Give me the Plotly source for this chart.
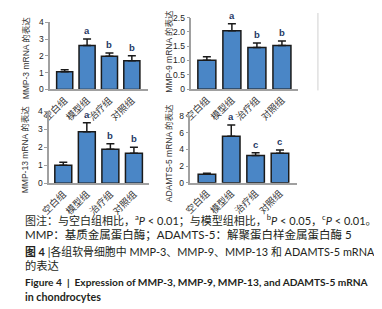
import plotly.graph_objects as go

categories = ["空白组", "模型组", "治疗组", "对照组"]

mmp3_values = [1.05, 2.62, 1.97, 1.71]
mmp3_errors = [0.12, 0.38, 0.20, 0.30]
mmp3_marks = ["", "a", "b", "b"]

mmp9_values = [1.01, 2.04, 1.45, 1.52]
mmp9_errors = [0.12, 0.24, 0.16, 0.16]
mmp9_marks = ["", "a", "b", "b"]

mmp13_values = [1.00, 2.87, 1.90, 1.67]
mmp13_errors = [0.17, 0.50, 0.30, 0.33]
mmp13_marks = ["", "a", "b", "b"]

adamts5_values = [1.00, 5.60, 3.26, 3.53]
adamts5_errors = [0.12, 1.35, 0.34, 0.39]
adamts5_marks = ["", "a", "c", "c"]

y_titles = ["MMP-3 mRNA 的表达", "MMP-9 mRNA 的表达", "MMP-13 mRNA 的表达", "ADAMTS-5 mRNA 的表达"]
y_ticks = [
    ([0, 1, 2, 3, 4], ["0", "1", "2", "3", "4"]),
    ([0, 0.5, 1.0, 1.5, 2.0, 2.5], ["0", "0.5", "1.0", "1.5", "2.0", "2.5"]),
    ([0, 1, 2, 3, 4], ["0", "1", "2", "3", "4"]),
    ([0, 2, 4, 6, 8], ["0", "2", "4", "6", "8"]),
]

caption_lines = [
    "图注：与空白组相比，<sup>a</sup><i>P</i> < 0.01；与模型组相比，<sup>b</sup><i>P</i> < 0.05，<sup>c</sup><i>P</i> < 0.01。",
    "MMP：基质金属蛋白酶；ADAMTS-5：解聚蛋白样金属蛋白酶 5",
    "<b>图 4</b> |各组软骨细胞中 MMP-3、MMP-9、MMP-13 和 ADAMTS-5 mRNA",
    "的表达",
    "<b>Figure 4  |  Expression of MMP-3, MMP-9, MMP-13, and ADAMTS-5 mRNA</b>",
    "<b>in chondrocytes</b>",
]

W, H = 382, 309
def px(x):
    return x / W
def py(y):
    return 1 - y / H

panels = [
    dict(v=mmp3_values, e=mmp3_errors, m=mmp3_marks, xd=[33, 133], y0=79, ytop=9.5, ymax=4, xr=[-0.65, 3.7], tx=8, ty=46),
    dict(v=mmp9_values, e=mmp9_errors, m=mmp9_marks, xd=[178, 288], y0=78.7, ytop=4.7, ymax=2.5, xr=[-0.62, 3.66], tx=155, ty=39),
    dict(v=mmp13_values, e=mmp13_errors, m=mmp13_marks, xd=[32, 135], y0=176, ytop=101.7, ymax=4, xr=[-0.6, 3.66], tx=8, ty=141),
    dict(v=adamts5_values, e=adamts5_errors, m=adamts5_marks, xd=[177, 287], y0=175.3, ytop=106.7, ymax=8, xr=[-0.68, 3.72], tx=155, ty=145),
]

fig = go.Figure()
annotations = []
bar_color = "#4a86c6"
font_cjk = "Noto Sans CJK SC, sans-serif"
font_lat = "Lato, Noto Sans CJK SC, sans-serif"
font_arial = "Liberation Sans, Noto Sans CJK SC, sans-serif"

for i, p in enumerate(panels):
    k = "" if i == 0 else str(i + 1)
    xa, ya = "x" + k, "y" + k
    fig.add_trace(go.Bar(
        x=categories, y=p["v"], xaxis=xa, yaxis=ya,
        width=0.72,
        marker=dict(color=bar_color, line=dict(color="#1a1a1a", width=1.5)),
        error_y=dict(type="data", array=p["e"], arrayminus=[0] * 4, symmetric=False,
                     color="#1a1a1a", thickness=1.5, width=4),
        showlegend=False, hoverinfo="skip",
    ))
    tv, tt = y_ticks[i]
    fig.layout["xaxis" + k] = dict(
        domain=[px(p["xd"][0]), px(p["xd"][1])], anchor=ya, range=p["xr"],
        showline=True, linecolor="#a0a0a0", linewidth=1.5, ticks="",
        tickangle=-45, tickfont=dict(family=font_cjk, size=9.5, color="#333"),
        showgrid=False, zeroline=False, fixedrange=True,
    )
    fig.layout["yaxis" + k] = dict(
        domain=[py(p["y0"]), py(p["ytop"])], anchor=xa, range=[0, p["ymax"]],
        showline=True, linecolor="#a0a0a0", linewidth=1.5,
        ticks="outside", ticklen=3, tickcolor="#a0a0a0", tickwidth=1,
        tickvals=tv, ticktext=tt,
        tickfont=dict(family="Liberation Sans, sans-serif", size=8.5, color="#222"),
        showgrid=False, zeroline=False, fixedrange=True,
    )
    for j, mk in enumerate(p["m"]):
        if mk:
            annotations.append(dict(
                x=categories[j], y=p["v"][j] + p["e"][j], xref=xa, yref=ya,
                text="<b>" + mk + "</b>", showarrow=False, yanchor="bottom", yshift=1,
                font=dict(family="Liberation Sans, sans-serif", size=9.5, color="#1f3a66"),
            ))
    annotations.append(dict(
        x=px(p["tx"]), y=py(p["ty"]), xref="paper", yref="paper",
        text=y_titles[i], textangle=-90, showarrow=False,
        xanchor="center", yanchor="middle",
        font=dict(family=font_arial, size=8.5, color="#333"),
    ))

caption_y = [213, 229, 246, 261, 278, 293]
caption_sizes = [11.0, 11.5, 10.9, 11.3, 10.2, 10.7]
for line, yy, fs in zip(caption_lines, caption_y, caption_sizes):
    annotations.append(dict(
        x=px(5), y=py(yy), xref="paper", yref="paper", text=line,
        showarrow=False, xanchor="left", yanchor="middle",
        font=dict(family=font_lat, size=fs, color="#231f20"),
    ))

fig.update_layout(
    width=W, height=H,
    margin=dict(l=0, r=0, t=0, b=0),
    paper_bgcolor="white", plot_bgcolor="white",
    annotations=annotations,
    shapes=[dict(type="line", xref="paper", yref="paper", x0=px(308), x1=px(308),
                 y0=py(80), y1=py(0), line=dict(color="#d0d0d0", width=1))],
    bargap=0.2,
)

fig.write_html("out.html")
